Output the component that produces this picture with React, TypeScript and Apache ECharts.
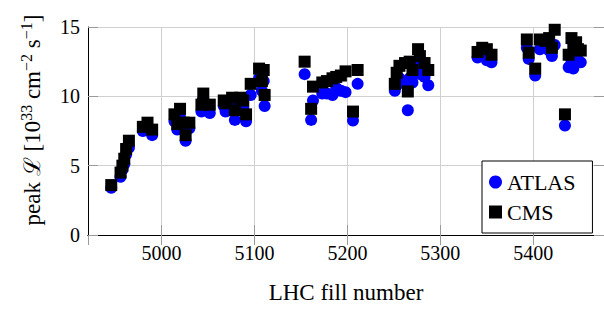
import React, { useEffect, useRef } from "react";
import * as echarts from "echarts";

const fills = [
  4946, 4956, 4958, 4960, 4962, 4965,
  4980, 4985, 4990,
  5014, 5017, 5020, 5024, 5026, 5030,
  5043, 5045, 5052,
  5067, 5069, 5076, 5079, 5085, 5088, 5091, 5096, 5105, 5108, 5110, 5111,
  5154, 5161, 5163, 5173, 5178, 5184, 5188, 5193, 5198, 5206, 5211,
  5251, 5253, 5256, 5262, 5265, 5267, 5270, 5276, 5278, 5283, 5287,
  5340, 5345, 5350, 5355,
  5393, 5395, 5402, 5407, 5413, 5417, 5420, 5423, 5434, 5438, 5441, 5443, 5446, 5448, 5451,
];

const atlas = [
  3.4, 4.2, 4.7, 5.1, 5.8, 6.3,
  7.5, 7.8, 7.2,
  8.2, 7.6, 8.5, 7.6, 6.8, 7.7,
  8.9, 9.8, 8.8,
  9.3, 8.9, 9.4, 8.3, 9.3, 9.2, 8.2, 10.1, 11.3, 10.4, 11.1, 9.3,
  11.6, 8.3, 9.7, 10.2, 10.2, 10.1, 10.6, 10.4, 10.3, 8.25, 10.9,
  10.4, 10.8, 11.3, 11.0, 9.0, 11.3, 11.0, 12.1, 11.6, 11.4, 10.8,
  12.8, 12.9, 12.6, 12.45,
  13.5, 12.7, 11.5, 13.4, 13.6, 13.3, 12.9, 13.7, 7.9, 12.1, 12.6, 12.0, 12.8, 12.6, 12.45,
];

const cms = [
  3.6, 4.5, 5.0, 5.5, 6.2, 6.8,
  7.8, 8.1, 7.6,
  8.7, 8.0, 9.1, 8.1, 7.2, 8.1,
  9.4, 10.2, 9.4,
  9.7, 9.5, 9.9, 9.0, 9.9, 9.7, 8.7, 10.9, 12.0, 11.1, 11.9, 10.1,
  12.5, 9.1, 10.7, 11.0, 11.1, 11.3, 11.4, 11.5, 11.8, 8.9, 11.9,
  10.9, 11.7, 12.2, 12.4, 10.35, 12.5, 11.9, 13.4, 12.9, 12.4, 11.9,
  13.2, 13.5, 13.4, 13.0,
  14.1, 13.15, 12.0, 14.1, 14.0, 14.2, 13.5, 14.8, 8.7, 13.0, 14.2, 13.6, 13.9, 13.4, 13.3,
];

const xRange = [4921, 5476];
const yRange = [0, 15];
const yTickStep = 5;
const seriesNames = ["ATLAS", "CMS"];
const xTitle = "LHC fill number";

const SERIF = "Liberation Serif";

export default function App() {
  const ref = useRef<HTMLDivElement>(null);
  useEffect(() => {
    if (!ref.current) return;
    const chart = echarts.init(ref.current, null, { renderer: "svg" });
    const tickStyle = { inside: true, length: 10, lineStyle: { color: "#9a9a9a", width: 1 } };
    const axisLine = { show: true, lineStyle: { color: "#000", width: 1 } };
    chart.setOption({
      animation: false,
      backgroundColor: "#fff",
      textStyle: { fontFamily: SERIF },
      grid: { left: 88, top: 27, right: -6, bottom: 69, containLabel: false },
      xAxis: [
        {
          type: "value",
          min: xRange[0],
          max: xRange[1],
          minInterval: 100,
          maxInterval: 100,
          position: "bottom",
          axisLine,
          axisTick: tickStyle,
          splitLine: { show: true, lineStyle: { color: "#d0d0d0", width: 1 } },
          axisLabel: {
            show: true,
            showMinLabel: false,
            showMaxLabel: false,
            color: "#000",
            fontFamily: SERIF,
            fontSize: 20,
            margin: 8,
            formatter: (v: number) => String(v),
          },
          name: xTitle,
          nameLocation: "middle",
          nameGap: 46,
          nameTextStyle: { color: "#000", fontFamily: SERIF, fontSize: 23 },
        },
        {
          type: "value",
          min: xRange[0],
          max: xRange[1],
          minInterval: 100,
          maxInterval: 100,
          position: "top",
          axisLine,
          axisTick: tickStyle,
          splitLine: { show: false },
          axisLabel: { show: false },
        },
      ],
      yAxis: [
        {
          type: "value",
          min: yRange[0],
          max: yRange[1],
          interval: yTickStep,
          position: "left",
          axisLine,
          axisTick: tickStyle,
          splitLine: { show: true, lineStyle: { color: "#d0d0d0", width: 1 } },
          axisLabel: {
            color: "#000",
            fontFamily: SERIF,
            fontSize: 20,
            margin: 8,
            formatter: (v: number) => String(v),
          },
        },
        {
          type: "value",
          min: yRange[0],
          max: yRange[1],
          interval: yTickStep,
          position: "right",
          axisLine,
          axisTick: tickStyle,
          splitLine: { show: false },
          axisLabel: { show: false },
        },
      ],
      legend: {
        orient: "vertical",
        left: 482,
        top: 161,
        padding: [10, 17, 10, 7],
        itemGap: 8,
        itemWidth: 13,
        itemHeight: 13,
        itemStyle: { borderWidth: 0, opacity: 1 },
        backgroundColor: "#fff",
        borderColor: "#000",
        borderWidth: 1,
        borderRadius: 0,
        textStyle: { color: "#000", fontFamily: SERIF, fontSize: 22, lineHeight: 22 },
        data: [
          { name: seriesNames[0], icon: "circle" },
          { name: seriesNames[1], icon: "rect" },
        ],
        z: 10,
      },
      graphic: [
        {
          type: "text",
          x: 31,
          y: 120,
          rotation: Math.PI / 2,
          style: {
            text: "{a|peak ℒ [10}{s|33}{a| cm}{s|−2}{a| s}{s|−1}{a|]}",
            align: "center",
            verticalAlign: "middle",
            fill: "#000",
            rich: {
              a: { fontFamily: SERIF, fontSize: 23, fill: "#000", verticalAlign: "bottom", lineHeight: 26 },
              s: { fontFamily: SERIF, fontSize: 16, fill: "#000", verticalAlign: "top", lineHeight: 26 },
            },
          },
        },
      ],
      series: [
        {
          name: seriesNames[0],
          type: "scatter",
          symbol: "circle",
          symbolSize: 12,
          itemStyle: { color: "#0000ff", opacity: 1 },
          data: fills.map((f, i) => [f, atlas[i]]),
          z: 2,
        },
        {
          name: seriesNames[1],
          type: "scatter",
          symbol: "rect",
          symbolSize: 12,
          itemStyle: { color: "#000", opacity: 1 },
          data: fills.map((f, i) => [f, cms[i]]),
          z: 3,
        },
      ],
    });
    return () => chart.dispose();
  }, []);
  return (
    <div
      ref={ref}
      style={{ position: "fixed", left: 0, top: 0, width: 604, height: 309, background: "#fff" }}
    />
  );
}
